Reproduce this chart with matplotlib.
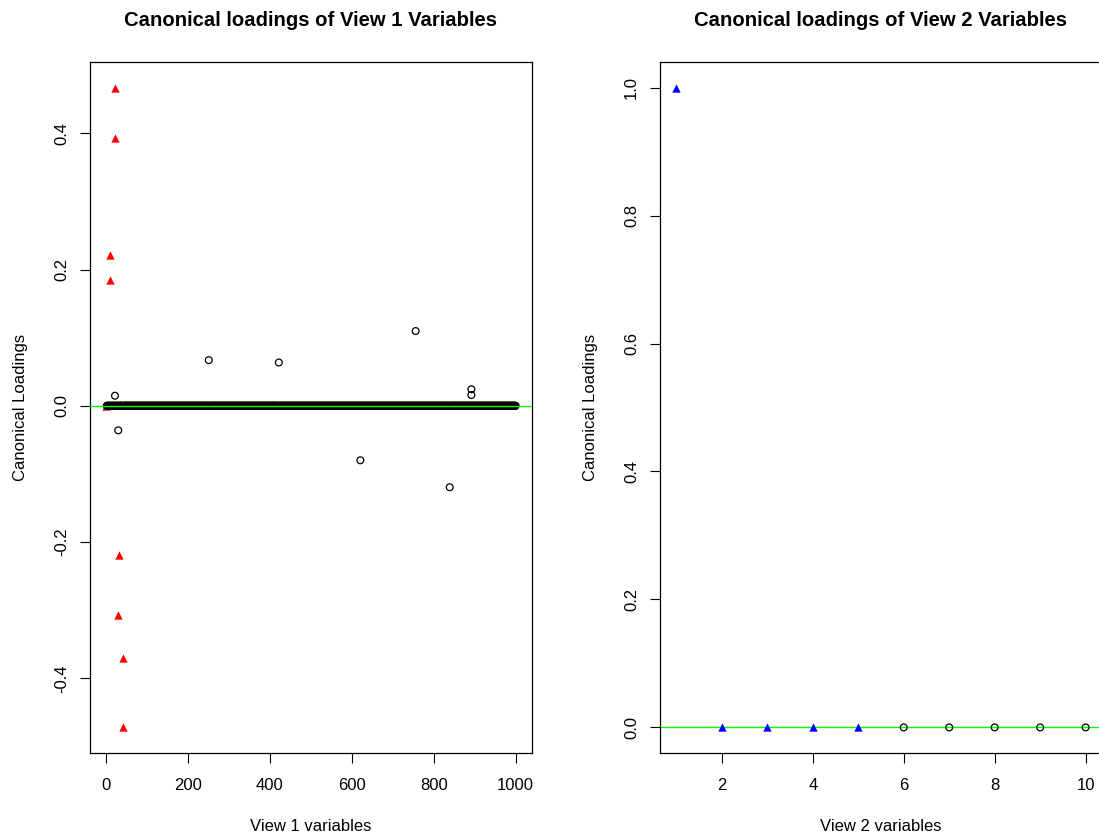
import numpy as np
import matplotlib
matplotlib.use("Agg")
import matplotlib.pyplot as plt

plt.rcParams["font.family"] = ["Liberation Sans", "DejaVu Sans"]

# View 1: 1000 variables, only a handful have non-zero loadings
n_view1 = 1000
red_idx = [1, 10, 11, 21, 22, 30, 31, 41, 42]
red_val = [0.0, 0.184, 0.222, 0.393, 0.467, -0.307, -0.219, -0.370, -0.472]
black_idx = [22, 30, 251, 422, 621, 756, 839, 892, 892]
black_val = [0.0148, -0.036, 0.067, 0.0635, -0.080, 0.1097, -0.1195, 0.0243, 0.0158]

# View 2: 10 variables
n_view2 = 10
blue_idx = [1, 2, 3, 4, 5]
blue_val = [1.0, 0.0, 0.0, 0.0, 0.0]
circ2_idx = [6, 7, 8, 9, 10]
circ2_val = [0.0, 0.0, 0.0, 0.0, 0.0]

W, H = 1099, 835
fig = plt.figure(figsize=(W / 100, H / 100), dpi=100)

TRI = dict(marker="^", s=36, linewidths=0)
CIRC = dict(marker="o", s=24, facecolors="none", edgecolors="black", linewidths=0.9)

def px_axes(x0, y0, x1, y1):
    """ axes from pixel box (top-left origin) """
    return fig.add_axes([x0 / W, 1 - y1 / H, (x1 - x0) / W, (y1 - y0) / H])

def style(ax, title, xlabel):
    ax.set_title(title, fontsize=14.6, fontweight="bold", pad=26)
    ax.set_xlabel(xlabel, fontsize=12, labelpad=19)
    ax.set_ylabel("Canonical Loadings", fontsize=12, labelpad=19)
    ax.tick_params(direction="out", length=7, width=0.8, labelsize=12)
    ax.tick_params(axis="x", pad=11)
    ax.tick_params(axis="y", pad=8)
    for lab in ax.get_yticklabels():
        lab.set_rotation(90)
        lab.set_va("center")
    for s in ax.spines.values():
        s.set_linewidth(0.9)

def rlim(lo, hi):
    d = (hi - lo) * 0.04
    return lo - d, hi + d

# left panel
ax1 = px_axes(90, 62, 532, 753)
zero_idx = [i for i in range(1, n_view1 + 1)
            if i not in red_idx and i not in black_idx]
ax1.scatter(red_idx, red_val, color="red", zorder=2, **TRI)
ax1.scatter(zero_idx, np.zeros(len(zero_idx)), zorder=3, **CIRC)
ax1.scatter(black_idx, black_val, zorder=3, **CIRC)
ax1.axhline(0, color="#00ff00", lw=1.0, zorder=4)
ax1.set_xlim(*rlim(1, n_view1))
ax1.set_ylim(*rlim(min(red_val), max(red_val)))
ax1.set_xticks([0, 200, 400, 600, 800, 1000])
ax1.set_yticks([-0.4, -0.2, 0.0, 0.2, 0.4])
ax1.set_yticklabels(["-0.4", "-0.2", "0.0", "0.2", "0.4"])
style(ax1, "Canonical loadings of View 1 Variables", "View 1 variables")

# right panel, runs past the right edge of the figure
ax2 = px_axes(660, 62, 1102, 753)
ax2.scatter(blue_idx, blue_val, color="blue", zorder=2, **TRI)
ax2.scatter(circ2_idx, circ2_val, zorder=3, **CIRC)
ax2.axhline(0, color="#00ff00", lw=1.0, zorder=1)
ax2.set_xlim(*rlim(1, n_view2))
ax2.set_ylim(*rlim(0.0, 1.0))
ax2.set_xticks([2, 4, 6, 8, 10])
ax2.set_yticks([0.0, 0.2, 0.4, 0.6, 0.8, 1.0])
ax2.set_yticklabels(["0.0", "0.2", "0.4", "0.6", "0.8", "1.0"])
style(ax2, "Canonical loadings of View 2 Variables", "View 2 variables")

fig.savefig("out.png", dpi=100)
